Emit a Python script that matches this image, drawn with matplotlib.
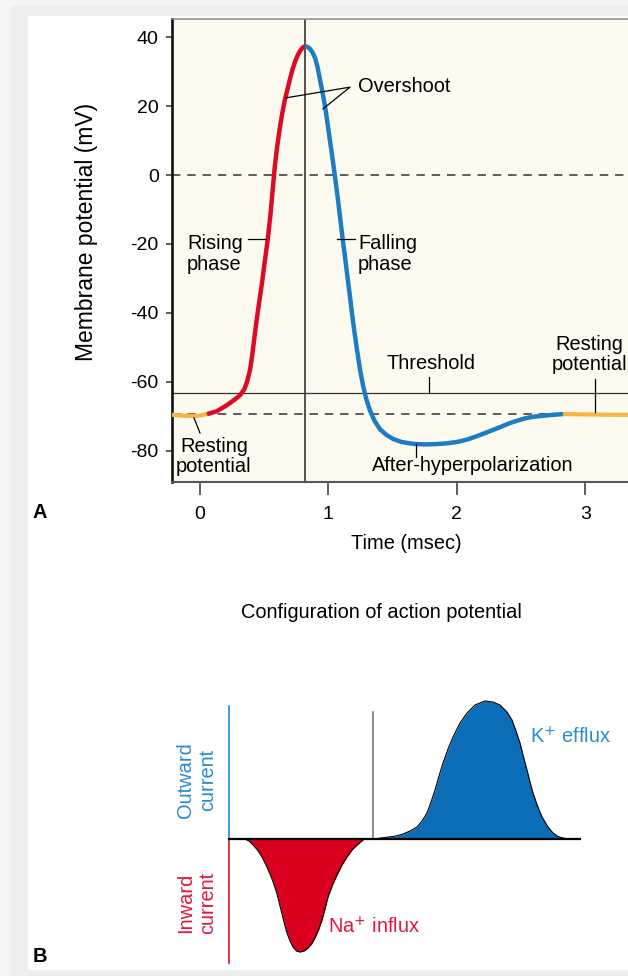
import matplotlib
matplotlib.use("Agg")
import matplotlib.pyplot as plt
from matplotlib.patches import Rectangle

plt.rcParams['font.family'] = ['Liberation Sans', 'DejaVu Sans']

W, H = 628, 976

# ---------------- Data: panel A (membrane potential, mV vs time, msec) -------------
rest_left_t = [-0.22, -0.12, -0.02, 0.055]
rest_left_v = [-69.6, -69.9, -69.9, -69.4]

rising_t = [0.055, 0.13, 0.21, 0.27, 0.312, 0.345, 0.366, 0.39, 0.405, 0.428, 0.452, 0.483,
            0.506, 0.530, 0.550, 0.568, 0.584, 0.603, 0.623, 0.642, 0.662, 0.682, 0.701,
            0.720, 0.740, 0.760, 0.779, 0.80, 0.818]
rising_v = [-69.4, -68.6, -66.8, -65.2, -63.9, -62.2, -60.1, -56.5, -52.8, -45.9, -39.2, -31.3,
            -24.7, -18.0, -11.0, -3.5, 3.0, 8.8, 14.0, 18.2, 22.0, 25.0, 27.9,
            30.6, 32.9, 34.7, 36.0, 37.0, 37.4]

falling_t = [0.818, 0.838, 0.857, 0.876, 0.896, 0.915, 0.935, 0.950, 0.966, 0.982, 0.997, 1.012,
             1.028, 1.043, 1.058, 1.075, 1.090, 1.106, 1.125, 1.145, 1.165, 1.184, 1.203, 1.223,
             1.246, 1.269, 1.295, 1.324, 1.360, 1.402, 1.450, 1.503, 1.570, 1.636, 1.674, 1.760,
             1.846, 1.920, 2.002, 2.080, 2.157, 2.220, 2.282, 2.350, 2.414, 2.480, 2.547, 2.610,
             2.671, 2.750, 2.827]
falling_v = [37.4, 37.2, 36.6, 35.6, 34.0, 31.4, 27.6, 24.8, 21.6, 17.9, 14.0, 10.0,
             5.9, 1.8, -2.4, -7.3, -12.0, -17.0, -22.5, -28.5, -34.4, -40.2, -45.6, -50.8,
             -56.4, -61.0, -65.0, -68.4, -71.4, -73.8, -75.4, -76.6, -77.5, -77.9, -78.1, -78.2,
             -78.1, -77.9, -77.5, -76.8, -75.8, -74.9, -74.0, -73.0, -72.0, -71.2, -70.5, -70.1,
             -69.9, -69.6, -69.4]

rest_right_t = [2.827, 3.0, 3.2, 3.45]
rest_right_v = [-69.4, -69.5, -69.6, -69.6]

peak_time = 0.818
threshold_mv = -63.3
resting_mv = -69.4

x_ticks = [0, 1, 2, 3]
y_ticks = [-80, -60, -40, -20, 0, 20, 40]
y_tick_labels = ['-80', '-60', '-40', '-20', '0', '20', '40']

# ---------------- Data: panel B (ionic currents, arbitrary units) -----------------
na_t = [0.16, 0.20, 0.24, 0.285, 0.33, 0.37, 0.41, 0.445, 0.48, 0.505, 0.53, 0.555, 0.58, 0.61,
        0.64, 0.675, 0.71, 0.75, 0.79, 0.825, 0.86, 0.895, 0.93, 0.96, 0.99, 1.035, 1.08,
        1.13, 1.18, 1.23, 1.28, 1.34]
na_i = [0.0, -0.02, -0.06, -0.11, -0.18, -0.26, -0.35, -0.44, -0.55, -0.65, -0.75, -0.85,
        -0.94, -1.02, -1.08, -1.12, -1.13, -1.12, -1.09, -1.05, -0.99, -0.91, -0.81, -0.70,
        -0.58, -0.46, -0.36, -0.26, -0.18, -0.11, -0.06, -0.01]

k_t = [1.44, 1.52, 1.60, 1.67, 1.74, 1.81, 1.88, 1.93, 1.98, 2.02, 2.06, 2.10, 2.14, 2.19,
       2.24, 2.31, 2.38, 2.46, 2.56, 2.64, 2.71, 2.78, 2.83, 2.87, 2.91, 2.945, 2.98, 3.01,
       3.04, 3.085, 3.13, 3.19, 3.24, 3.29, 3.34, 3.40]
k_i = [0.0, 0.01, 0.02, 0.03, 0.05, 0.08, 0.12, 0.18, 0.26, 0.37, 0.49, 0.63, 0.76, 0.90,
       1.02, 1.16, 1.26, 1.34, 1.38, 1.37, 1.34, 1.27, 1.19, 1.08, 0.96, 0.82, 0.69, 0.57,
       0.46, 0.33, 0.22, 0.12, 0.06, 0.025, 0.01, 0.0]
k_onset = 1.44
baseline_end = 3.51

RED = '#dc0a25'
BLUE = '#1d7cc3'
ORANGE = '#f5b443'
FILL_BLUE = '#0b6db5'
FILL_RED = '#d8001e'
TXT_BLUE = '#2a8ad2'
TXT_RED = '#e3173a'


def fx(px):
    return px / W


def fy(py):
    return 1 - py / H


fig = plt.figure(figsize=(W / 100, H / 100), dpi=100)
fig.patch.set_facecolor('#f6f6f6')
fig.add_artist(Rectangle((fx(11), 0), 1, fy(5), transform=fig.transFigure,
                         facecolor='#eeeeee', edgecolor='none', zorder=-10))
fig.add_artist(Rectangle((fx(28), fy(970)), 1, fy(16) - fy(970), transform=fig.transFigure,
                         facecolor='white', edgecolor='none', zorder=-9))

# ---------------- Panel A ----------------
axL, axR, axT, axB = 172, 640, 19, 482
ax = fig.add_axes([fx(axL), fy(axB), (axR - axL) / W, (axB - axT) / H])
ax.set_facecolor('#fdfbef')
px_per_ms = 128.4
px_per_mv = 3.445
ax.set_xlim((axL - 200) / px_per_ms, (axR - 200) / px_per_ms)
ax.set_ylim(-(axB - 175) / px_per_mv, (175 - axT) / px_per_mv)

ax.spines['right'].set_visible(False)
ax.spines['left'].set_linewidth(1.9)
ax.spines['left'].set_color('#111111')
ax.spines['bottom'].set_linewidth(1.5)
ax.spines['bottom'].set_color('#555555')
ax.spines['top'].set_linewidth(1.1)
ax.spines['top'].set_color('#888888')

ax.set_xticks(x_ticks)
ax.set_xticklabels([str(t) for t in x_ticks])
ax.set_yticks(y_ticks)
ax.set_yticklabels(y_tick_labels)
ax.tick_params(axis='x', direction='out', length=9, width=1.1, color='#333333',
               labelsize=14, pad=8)
ax.tick_params(axis='y', direction='out', length=4.5, width=1.1, color='#333333',
               labelsize=14, pad=5)
ax.set_xlabel('Time (msec)', fontsize=14.4, labelpad=8)
ax.set_ylabel('Membrane potential (mV)', fontsize=16.5)
ax.yaxis.set_label_coords((98 - axL) / (axR - axL), 1 - (232 - axT) / (axB - axT))

ax.axhline(0, color='#333333', lw=1.1, ls=(0, (5.5, 4.5)), zorder=1)
ax.axhline(resting_mv, color='#333333', lw=1.1, ls=(0, (5.5, 4.5)), zorder=1)
ax.axhline(threshold_mv, color='#333333', lw=0.9, zorder=1)
ax.axvline(peak_time, color='#444444', lw=1.3, zorder=1)

ax.plot(rest_left_t, rest_left_v, color=ORANGE, lw=3.0, solid_capstyle='butt', zorder=3)
ax.plot(rest_right_t, rest_right_v, color=ORANGE, lw=3.0, solid_capstyle='butt', zorder=3)
ax.plot(rising_t, rising_v, color=RED, lw=3.2, solid_capstyle='butt', zorder=4)
ax.plot(falling_t, falling_v, color=BLUE, lw=3.2, solid_capstyle='butt', zorder=4)

fs = 14.4
ls_ = 1.1
# Overshoot
ax.plot([0.670, 1.168, 0.958], [22.4, 25.5, 19.2], color='black', lw=0.9, zorder=5)
ax.text(1.23, 25.8, 'Overshoot', fontsize=fs, ha='left', va='center', zorder=6)
# Rising phase
ax.plot([0.374, 0.514], [-18.6, -18.6], color='black', lw=0.9, zorder=5)
ax.text(-0.10, -22.9, 'Rising\nphase', fontsize=fs, ha='left', va='center',
        linespacing=ls_, zorder=6)
# Falling phase
ax.plot([1.067, 1.207], [-18.6, -18.6], color='black', lw=0.9, zorder=5)
ax.text(1.23, -22.9, 'Falling\nphase', fontsize=fs, ha='left', va='center',
        linespacing=ls_, zorder=6)
# Threshold
ax.plot([1.78, 1.78], [-58.6, threshold_mv], color='black', lw=0.9, zorder=5)
ax.text(1.80, -54.6, 'Threshold', fontsize=fs, ha='center', va='center', zorder=6)
# Resting potential (right)
ax.plot([3.08, 3.08], [-59.2, -68.8], color='black', lw=0.9, zorder=5)
ax.text(3.03, -52.1, 'Resting\npotential', fontsize=fs, ha='center', va='center',
        linespacing=ls_, zorder=6)
# Resting potential (left)
ax.plot([-0.047, 0.0], [-70.5, -74.9], color='black', lw=0.9, zorder=5)
ax.text(0.109, -81.7, 'Resting\npotential', fontsize=fs, ha='center', va='center',
        linespacing=ls_, zorder=6)
# After-hyperpolarization
ax.plot([1.68, 1.68], [-78.1, -81.9], color='black', lw=0.9, zorder=5)
ax.text(2.12, -84.2, 'After-hyperpolarization', fontsize=fs, ha='center', va='center',
        zorder=6)

fig.text(fx(40), fy(512), 'A', fontsize=14.4, fontweight='bold', ha='center', va='center')
fig.text(fx(381), fy(612), 'Configuration of action potential', fontsize=fs,
         ha='center', va='center')

# ---------------- Panel B ----------------
bL, bR, bT, bB = 160, 628, 690, 970
axb = fig.add_axes([fx(bL), fy(bB), (bR - bL) / W, (bB - bT) / H])
axb.set_xlim((bL - 229) / 100, (bR - 229) / 100)
axb.set_ylim((839 - bB) / 100, (839 - bT) / 100)
axb.axis('off')

axb.fill_between(na_t, na_i, 0, color=FILL_RED, lw=0, zorder=2)
axb.plot(na_t, na_i, color='black', lw=0.8, zorder=3)
axb.fill_between(k_t, k_i, 0, color=FILL_BLUE, lw=0, zorder=2)
axb.plot(k_t, k_i, color='black', lw=0.8, zorder=3)

axb.plot([0, 0], [0, 1.33], color='#1f8ad6', lw=1.2, zorder=1)
axb.plot([0, 0], [0, -1.24], color='#e0102f', lw=1.2, zorder=1)
axb.plot([0, baseline_end], [0, 0], color='black', lw=1.6, zorder=4)
axb.plot([k_onset, k_onset], [0, 1.27], color='#777777', lw=1.2, zorder=1)

axb.text(-0.32, 0.59, 'Outward\ncurrent', rotation=90, fontsize=fs, color=TXT_BLUE,
         ha='center', va='center', linespacing=1.2)
axb.text(-0.32, -0.64, 'Inward\ncurrent', rotation=90, fontsize=fs, color=TXT_RED,
         ha='center', va='center', linespacing=1.2)
axb.text(3.01, 1.02, 'K$^{+}$ efflux', fontsize=fs, color=TXT_BLUE, ha='left', va='center')
axb.text(0.99, -0.88, 'Na$^{+}$ influx', fontsize=fs, color=TXT_RED, ha='left', va='center')

fig.text(fx(40), fy(957), 'B', fontsize=14.4, fontweight='bold', ha='center', va='center')

fig.savefig('out.png', dpi=100, facecolor=fig.get_facecolor())
